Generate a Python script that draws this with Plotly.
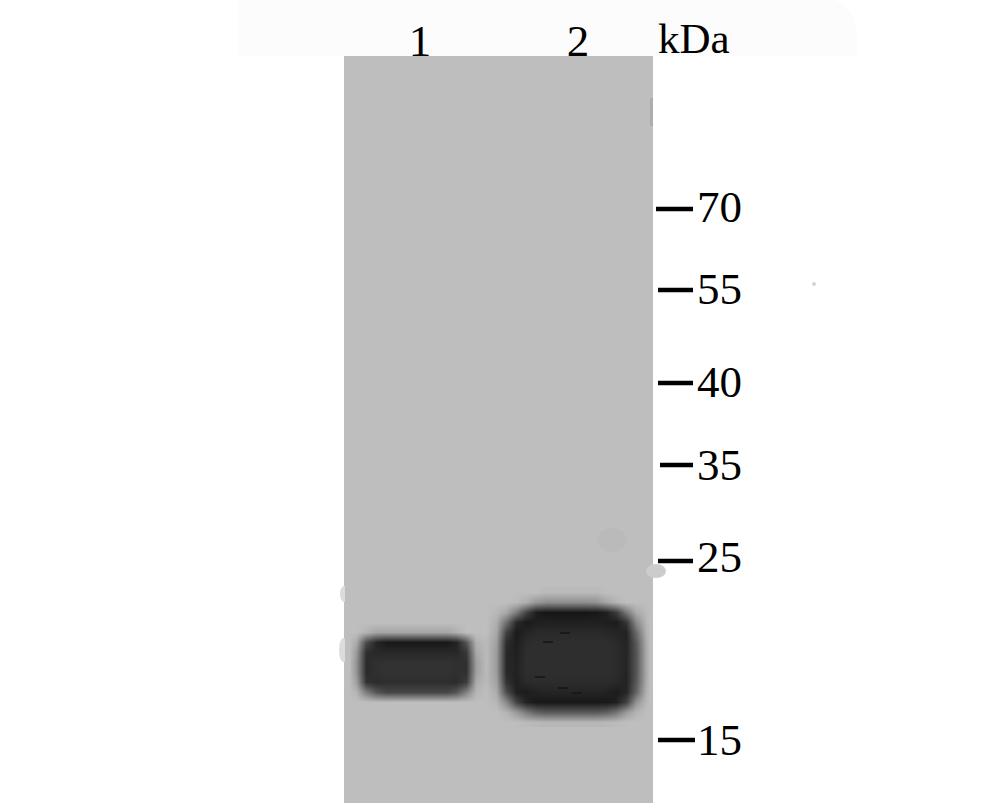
import plotly.graph_objects as go

lane_labels = ["1", "2"]
lane_x = [420, 578]
lane_y = [45, 45]

kda_labels = ["70", "55", "40", "35", "25", "15"]
kda_y = [209, 290, 383, 465, 561, 740]
kda_label_y = [211, 293, 386, 469, 561, 744]
kda_tick_start = [656, 658, 658, 660, 658, 658]
kda_tick_end = [693, 693, 693, 693, 693, 695]

# grey levels of the band area (one row per 10 px)
g = 190
band_x = [348.5, 355.5, 365.5, 375.5, 385.5, 395.5, 405.5, 415.5, 425.5, 435.5, 445.5,
          455.5, 465.5, 475.5, 485.5, 495.5, 505.5, 515.5, 525.5, 535.5, 545.5, 555.5,
          565.5, 575.5, 585.5, 595.5, 605.5, 615.5, 625.5, 635.5, 645.5, 650]
band_z = [
    [g, g, g, g, g, g, g, g, g, g, g, g, g, g, g, g, g, g, g, g, 186, 186, 186, 186, 186, 186, g, g, g, g, g, g],
    [g, g, g, g, g, g, g, g, g, g, g, g, g, g, g, g, g, 186, 174, 152, 142, 142, 142, 142, 142, 145, 165, 180, g, g, g, g],
    [g, g, g, g, g, g, g, g, g, g, g, g, g, g, g, 184, 168, 125, 68, 28, 22, 22, 22, 22, 22, 24, 32, 60, 120, 170, 186, g],
    [g, g, g, g, g, g, g, g, g, g, g, g, g, g, g, 175, 112, 42, 26, 30, 32, 32, 32, 32, 32, 32, 30, 28, 52, 138, 182, g],
    [g, g, 180, 165, 165, 165, 165, 165, 165, 165, 165, 175, g, g, g, 168, 66, 26, 36, 42, 42, 42, 42, 42, 42, 42, 40, 36, 34, 108, 178, g],
    [g, 170, 75, 38, 24, 24, 24, 24, 24, 24, 24, 34, 85, 178, 186, 160, 45, 30, 44, 46, 46, 46, 46, 46, 46, 46, 46, 42, 36, 90, 172, g],
    [g, 155, 45, 40, 40, 40, 40, 40, 40, 40, 40, 40, 55, 170, 186, 156, 40, 32, 46, 46, 46, 46, 46, 46, 46, 46, 46, 44, 36, 86, 170, g],
    [g, 148, 42, 48, 50, 50, 50, 50, 50, 50, 50, 48, 48, 160, 186, 156, 40, 34, 46, 46, 46, 46, 46, 46, 46, 46, 46, 44, 36, 86, 170, g],
    [g, 148, 42, 48, 50, 50, 50, 50, 50, 50, 50, 48, 48, 160, 186, 156, 40, 34, 46, 46, 46, 46, 46, 46, 46, 46, 46, 44, 36, 86, 170, g],
    [g, 160, 50, 44, 46, 46, 46, 46, 46, 46, 46, 44, 60, 172, 186, 162, 50, 32, 42, 44, 44, 44, 44, 44, 44, 44, 44, 40, 34, 90, 172, g],
    [g, 180, 125, 85, 70, 70, 70, 70, 70, 70, 70, 85, 130, 182, g, 172, 78, 32, 28, 34, 36, 36, 36, 36, 36, 36, 34, 28, 38, 102, 178, g],
    [g, g, g, g, g, g, g, g, g, g, g, g, g, g, g, 182, 138, 68, 34, 24, 24, 24, 24, 24, 24, 24, 24, 32, 66, 148, 184, g],
    [g, g, g, g, g, g, g, g, g, g, g, g, g, g, g, g, 180, 154, 122, 98, 90, 90, 90, 90, 90, 90, 96, 116, 154, 180, g, g],
    [g, g, g, g, g, g, g, g, g, g, g, g, g, g, g, g, g, g, 186, 184, 182, 182, 182, 182, 182, 182, 184, 186, g, g, g, g],
]

# short dark scratches inside the big band
speck_x = [548, 565, 540, 577, 563]
speck_y = [642, 633, 677, 693, 688]

fig = go.Figure()

fig.add_trace(go.Heatmap(
    z=band_z, x=band_x, y0=592, dy=10,
    zmin=0, zmax=255, zsmooth="best", showscale=False, hoverinfo="skip",
    colorscale=[[0, "rgb(0,0,0)"], [1, "rgb(255,255,255)"]],
))

fig.add_trace(go.Scatter(
    x=speck_x, y=speck_y, mode="markers", hoverinfo="skip",
    marker=dict(symbol="line-ew", size=7, line=dict(color="#141414", width=1.5)),
))

# size markers on the right of the blot
for y, x0, x1 in zip(kda_y, kda_tick_start, kda_tick_end):
    fig.add_trace(go.Scatter(
        x=[x0, x1], y=[y, y], mode="lines",
        line=dict(color="black", width=4.5), hoverinfo="skip",
    ))

font = dict(family="Liberation Serif", color="black", size=45)
fig.add_trace(go.Scatter(
    x=[697] * len(kda_labels), y=kda_label_y, mode="text", text=kda_labels,
    textposition="middle right", textfont=font, hoverinfo="skip",
))
fig.add_trace(go.Scatter(
    x=lane_x, y=lane_y, mode="text", text=lane_labels,
    textposition="middle center", textfont=font, hoverinfo="skip",
))
fig.add_trace(go.Scatter(
    x=[658], y=[42], mode="text", text=["kDa"],
    textposition="middle right", textfont=dict(family="Liberation Serif", color="black", size=43),
    hoverinfo="skip",
))

fig.update_layout(
    width=991, height=808,
    margin=dict(l=0, r=0, t=0, b=0),
    paper_bgcolor="white", plot_bgcolor="white",
    showlegend=False,
    xaxis=dict(range=[0, 991], visible=False),
    yaxis=dict(range=[808, 0], visible=False),
    shapes=[
        # pale strip behind the header and the blot itself
        dict(type="path", layer="below", fillcolor="#fcfcfc", line_width=0,
             path="M 238 56 L 238 0 L 835 0 Q 857 10 857 40 L 857 56 Z"),
        dict(type="rect", layer="below", x0=344, x1=653, y0=56, y1=803,
             fillcolor="rgb(190,190,190)", line_width=0),
        dict(type="rect", layer="below", x0=650, x1=653, y0=98, y1=126,
             fillcolor="#adadad", line_width=0),
        dict(type="circle", layer="below", x0=598, x1=626, y0=528, y1=552,
             fillcolor="#bababa", line_width=0),
        dict(type="circle", layer="below", x0=646, x1=666, y0=564, y1=578,
             fillcolor="#cccccc", line_width=0),
        dict(type="circle", layer="below", x0=340, x1=348, y0=586, y1=602,
             fillcolor="#dcdcdc", line_width=0),
        dict(type="circle", layer="below", x0=339, x1=348, y0=638, y1=662,
             fillcolor="#dcdcdc", line_width=0),
        dict(type="circle", layer="below", x0=812, x1=816, y0=282, y1=286,
             fillcolor="#d4d4d4", line_width=0),
    ],
)

# the page's default body margin would push the figure 8 px in
fig.write_html("out.html", config={"displayModeBar": False},
               post_script="document.body.style.margin = '0';")
